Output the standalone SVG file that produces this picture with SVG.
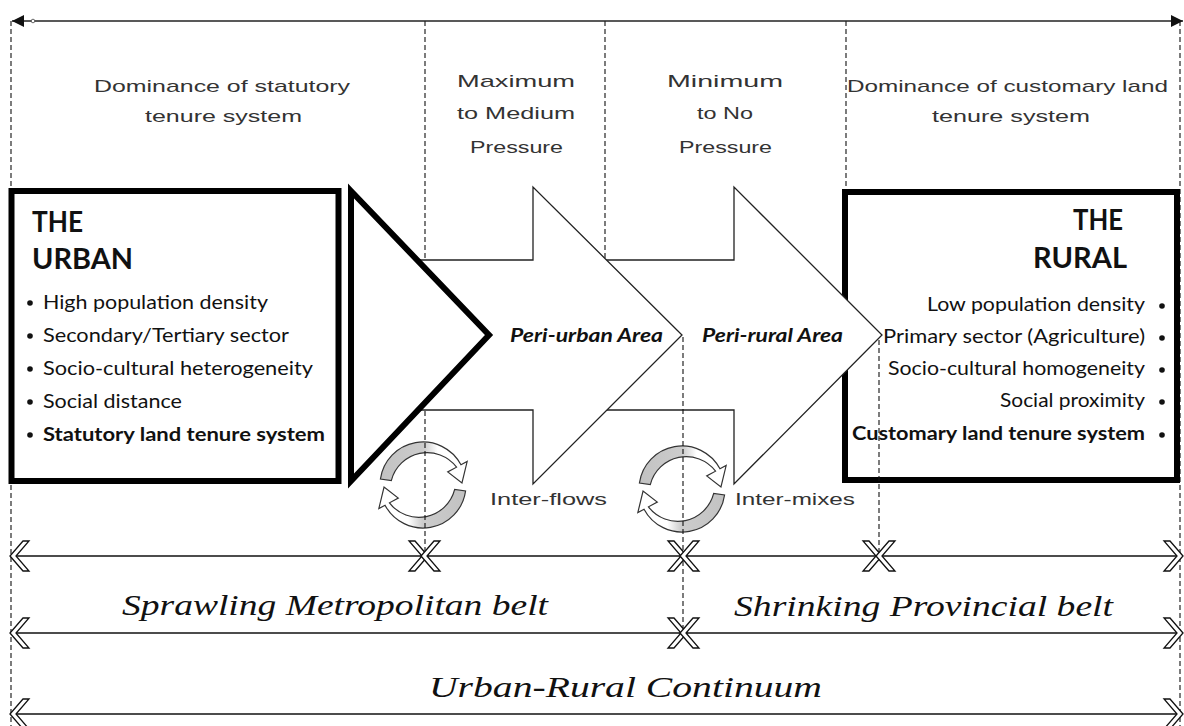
<svg xmlns="http://www.w3.org/2000/svg" width="1184" height="726" viewBox="0 0 1184 726">
<style>
.hand{font-family:"Liberation Sans","DejaVu Sans",sans-serif;font-size:17px;fill:#333}
.cal{font-family:"Liberation Serif","DejaVu Serif",serif;font-style:italic;font-size:30px;fill:#111}
.body{font-family:Lato,"Liberation Sans",sans-serif;font-size:19px;fill:#111}
.bold{font-weight:bold}
.title{font-family:Lato,"Liberation Sans",sans-serif;font-size:28px;font-weight:bold;fill:#111}
.peri{font-family:Lato,"Liberation Sans",sans-serif;font-size:19px;font-weight:bold;font-style:italic;fill:#111}
.dash{stroke:#111;stroke-width:1.1;stroke-dasharray:5 3;fill:none}
.row{stroke:#111;stroke-width:1.6;fill:none;marker-start:url(#chev);marker-end:url(#chev)}
.box{fill:#fff;stroke:#000;stroke-width:6}
.arrow{fill:#fff;stroke:#222;stroke-width:1.3;stroke-linejoin:miter}
.cyc{stroke:#333;stroke-width:1.2;fill:url(#cg)}
</style>
<defs>
<marker id="chev" viewBox="-2 -2 24 34" markerWidth="24" markerHeight="34" refX="20" refY="15" orient="auto-start-reverse" markerUnits="userSpaceOnUse" overflow="visible">
<path d="M20,15 L7,0 L1,0 L14,15 L1,30 L7,30 Z" fill="#fff" stroke="#111" stroke-width="1.3" stroke-linejoin="miter"/>
</marker>
<marker id="tri" viewBox="0 0 12 12" markerWidth="12" markerHeight="12" refX="12" refY="6" orient="auto-start-reverse" markerUnits="userSpaceOnUse">
<path d="M0,0 L12,6 L0,12 Z" fill="#111"/>
</marker>
<linearGradient id="cg" x1="0" y1="0" x2="1" y2="0">
<stop offset="0" stop-color="#c2c2c2"/>
<stop offset="0.5" stop-color="#cccccc"/>
<stop offset="0.66" stop-color="#fff"/>
<stop offset="1" stop-color="#fff"/>
</linearGradient>
<g id="cycle">
<path class="cyc" d="M-42.58,-5.98 A43,43 0 0 1 37.97,-20.19 L44.15,-23.47 L38.95,-2.04 L24.72,-13.15 L33.55,-17.84 A37,37 0 0 0 -31.69,-4.45 Z"/>
<path class="cyc" transform="rotate(180)" d="M-42.58,-5.98 A43,43 0 0 1 37.97,-20.19 L44.15,-23.47 L38.95,-2.04 L24.72,-13.15 L33.55,-17.84 A37,37 0 0 0 -31.69,-4.45 Z"/>
</g>
</defs>
<rect width="1184" height="726" fill="#fff"/>

<g id="guides">
<line class="dash" x1="11" y1="21" x2="11" y2="726"/>
<line class="dash" x1="1180" y1="21" x2="1180" y2="726"/>
<line class="dash" x1="425" y1="21" x2="425" y2="260"/>
<line class="dash" x1="605" y1="21" x2="605" y2="259"/>
<line class="dash" x1="846" y1="21" x2="846" y2="189"/>
</g>

<g id="top-axis">
<line x1="12" y1="21" x2="1183" y2="21" stroke="#222" stroke-width="1.5" marker-start="url(#tri)" marker-end="url(#tri)"/>
<circle cx="33" cy="21" r="1.8" fill="#fff" stroke="#444" stroke-width="0.8"/>
</g>

<g id="top-labels">
<text class="hand" x="94" y="92" textLength="256" lengthAdjust="spacingAndGlyphs">Dominance of statutory</text>
<text class="hand" x="145" y="122" textLength="157" lengthAdjust="spacingAndGlyphs">tenure system</text>
<text class="hand" x="457" y="87" textLength="118" lengthAdjust="spacingAndGlyphs">Maximum</text>
<text class="hand" x="457" y="119" textLength="118" lengthAdjust="spacingAndGlyphs">to Medium</text>
<text class="hand" x="470" y="153" textLength="93" lengthAdjust="spacingAndGlyphs">Pressure</text>
<text class="hand" x="667" y="87" textLength="116" lengthAdjust="spacingAndGlyphs">Minimum</text>
<text class="hand" x="697" y="119" textLength="56" lengthAdjust="spacingAndGlyphs">to No</text>
<text class="hand" x="679" y="153" textLength="93" lengthAdjust="spacingAndGlyphs">Pressure</text>
<text class="hand" x="847" y="92" textLength="321" lengthAdjust="spacingAndGlyphs">Dominance of customary land</text>
<text class="hand" x="932" y="122" textLength="158" lengthAdjust="spacingAndGlyphs">tenure system</text>
</g>

<g id="urban">
<rect class="box" x="11.5" y="191" width="327" height="290"/>
<text class="title" x="32" y="232" textLength="51" lengthAdjust="spacingAndGlyphs">THE</text>
<text class="title" x="32" y="269" textLength="101" lengthAdjust="spacingAndGlyphs">URBAN</text>
<g fill="#111">
<circle cx="30" cy="303" r="2.8"/><circle cx="30" cy="336" r="2.8"/><circle cx="30" cy="369" r="2.8"/><circle cx="30" cy="402" r="2.8"/><circle cx="30" cy="435" r="2.8"/>
</g>
<text class="body" x="43" y="309" textLength="225" lengthAdjust="spacingAndGlyphs">High population density</text>
<text class="body" x="43" y="342" textLength="246" lengthAdjust="spacingAndGlyphs">Secondary/Tertiary sector</text>
<text class="body" x="43" y="375" textLength="270" lengthAdjust="spacingAndGlyphs">Socio-cultural heterogeneity</text>
<text class="body" x="43" y="408" textLength="139" lengthAdjust="spacingAndGlyphs">Social distance</text>
<text class="body bold" x="43" y="441" textLength="282" lengthAdjust="spacingAndGlyphs">Statutory land tenure system</text>
</g>

<g id="rural">
<rect class="box" x="845" y="192" width="332" height="288"/>
<text class="title" x="1073" y="230" textLength="50" lengthAdjust="spacingAndGlyphs">THE</text>
<text class="title" x="1033" y="268" textLength="94" lengthAdjust="spacingAndGlyphs">RURAL</text>
<g fill="#111">
<circle cx="1162" cy="306" r="2.8"/><circle cx="1162" cy="338" r="2.8"/><circle cx="1162" cy="370" r="2.8"/><circle cx="1162" cy="402" r="2.8"/><circle cx="1162" cy="435" r="2.8"/>
</g>
<text class="body" x="1145" y="311" text-anchor="end" textLength="218" lengthAdjust="spacingAndGlyphs">Low population density</text>
<text class="body" x="1145" y="343" text-anchor="end" textLength="262" lengthAdjust="spacingAndGlyphs">Primary sector (Agriculture)</text>
<text class="body" x="1145" y="375" text-anchor="end" textLength="257" lengthAdjust="spacingAndGlyphs">Socio-cultural homogeneity</text>
<text class="body" x="1145" y="407" text-anchor="end" textLength="145" lengthAdjust="spacingAndGlyphs">Social proximity</text>
<text class="body bold" x="1145" y="440" text-anchor="end" textLength="293" lengthAdjust="spacingAndGlyphs">Customary land tenure system</text>
</g>

<g id="peri-rural">
<polygon class="arrow" points="560,260 734,260 734,187 882,335 734,484 734,410 560,410"/>
<text class="peri" x="702" y="342" textLength="141" lengthAdjust="spacingAndGlyphs">Peri-rural Area</text>
</g>

<g id="peri-urban">
<polygon class="arrow" points="380,260 533,260 533,187 682,335 533,484 533,410 380,410"/>
<text class="peri" x="510" y="342" textLength="153" lengthAdjust="spacingAndGlyphs">Peri-urban Area</text>
</g>

<g id="urban-wedge">
<polygon points="351,191 489,335 351,481" fill="#fff" stroke="#000" stroke-width="6" stroke-linejoin="miter"/>
</g>

<g id="inter-flows">
<use href="#cycle" transform="translate(423,485)"/>
<text class="hand" x="490" y="505" textLength="117" lengthAdjust="spacingAndGlyphs">Inter-flows</text>
</g>

<g id="inter-mixes">
<use href="#cycle" transform="translate(682,489)"/>
<text class="hand" x="735" y="505" textLength="120" lengthAdjust="spacingAndGlyphs">Inter-mixes</text>
</g>

<g id="connectors">
<line class="dash" x1="425" y1="411" x2="425" y2="556"/>
<line class="dash" x1="683" y1="337" x2="683" y2="633"/>
<line class="dash" x1="879" y1="340" x2="879" y2="556"/>
<line class="row" x1="10" y1="556" x2="428" y2="556"/>
<line class="row" x1="421" y1="556" x2="687" y2="556"/>
<line class="row" x1="680" y1="556" x2="882" y2="556"/>
<line class="row" x1="876" y1="556" x2="1183" y2="556"/>
<line class="row" x1="10" y1="633" x2="687" y2="633"/>
<line class="row" x1="680" y1="633" x2="1183" y2="633"/>
<line class="row" x1="10" y1="714" x2="1183" y2="714"/>
</g>

<g id="belt-labels">
<text class="cal" x="122" y="615" textLength="426" lengthAdjust="spacingAndGlyphs">Sprawling Metropolitan belt</text>
<text class="cal" x="734" y="616" textLength="379" lengthAdjust="spacingAndGlyphs">Shrinking Provincial belt</text>
<text class="cal" x="429" y="697" textLength="393" lengthAdjust="spacingAndGlyphs">Urban-Rural Continuum</text>
</g>
</svg>
